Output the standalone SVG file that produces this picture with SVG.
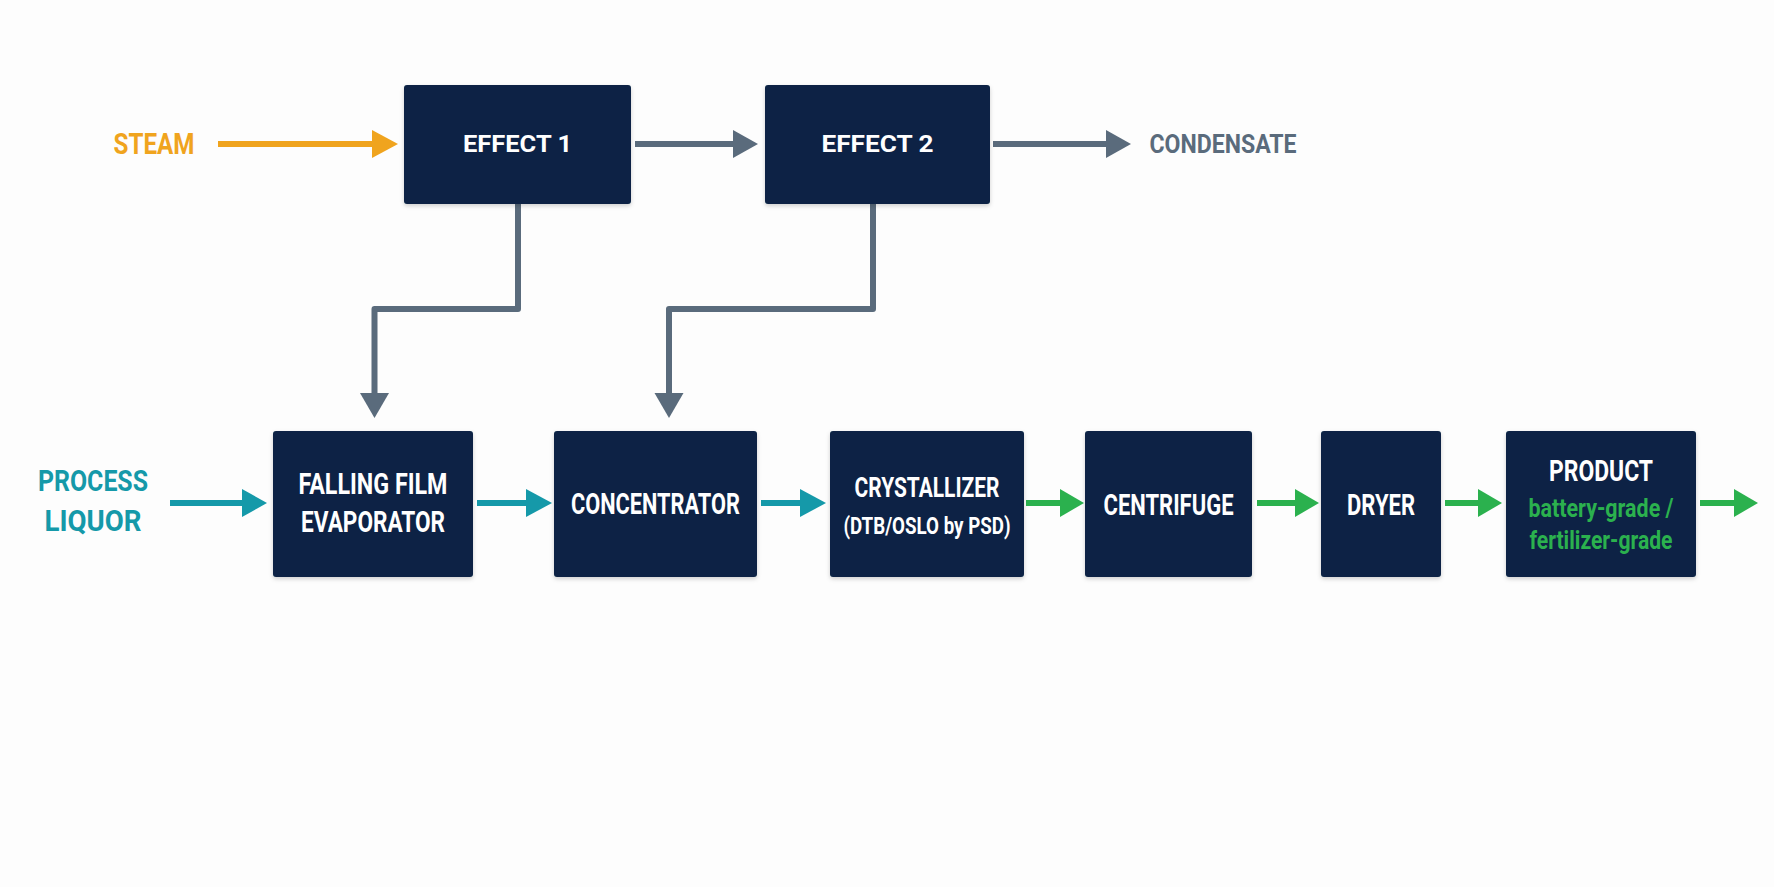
<svg xmlns="http://www.w3.org/2000/svg" width="1774" height="887" viewBox="0 0 1774 887">
<defs>
<style>
.box{fill:#0a2444;}
.t{font-family:Roboto,"Liberation Sans",sans-serif;font-weight:bold;text-anchor:middle;dominant-baseline:central;}
.w{fill:#ffffff;}
.g{fill:#2bb14e;}
.ln{fill:none;stroke-width:6;}
.hd{stroke:none;}
</style>
<filter id="sh" x="-10%" y="-10%" width="120%" height="130%"><feDropShadow dx="0" dy="2" stdDeviation="2" flood-color="#000" flood-opacity="0.18"/></filter>
</defs>
<rect width="1774" height="887" fill="#fdfdfd"/>

<g id="connectors">
<line class="ln" x1="218" y1="144" x2="374" y2="144" stroke="#f0a41e"/>
<polygon class="hd" points="372,130 398,144 372,158" fill="#f0a41e"/>
<line class="ln" x1="635" y1="144" x2="735" y2="144" stroke="#5a6b7c"/>
<polygon class="hd" points="733,130 758,144 733,158" fill="#5a6b7c"/>
<line class="ln" x1="993" y1="144" x2="1108" y2="144" stroke="#5a6b7c"/>
<polygon class="hd" points="1106,130 1131,144 1106,158" fill="#5a6b7c"/>
<polyline class="ln" points="518,204 518,309 374.5,309 374.5,396" stroke="#5a6b7c" stroke-linejoin="round"/>
<polygon class="hd" points="360,393 389,393 374.5,418" fill="#5a6b7c"/>
<polyline class="ln" points="873,204 873,309 669,309 669,396" stroke="#5a6b7c" stroke-linejoin="round"/>
<polygon class="hd" points="654.5,393 683.5,393 669,418" fill="#5a6b7c"/>
<line class="ln" x1="170" y1="503" x2="244" y2="503" stroke="#1599a9"/>
<polygon class="hd" points="242,489 267,503 242,517" fill="#1599a9"/>
<line class="ln" x1="477" y1="503" x2="528" y2="503" stroke="#1599a9"/>
<polygon class="hd" points="526,489 552,503 526,517" fill="#1599a9"/>
<line class="ln" x1="761" y1="503" x2="802" y2="503" stroke="#1599a9"/>
<polygon class="hd" points="800,489 826,503 800,517" fill="#1599a9"/>
<line class="ln" x1="1026" y1="503" x2="1062" y2="503" stroke="#2bb14e"/>
<polygon class="hd" points="1060,489 1084,503 1060,517" fill="#2bb14e"/>
<line class="ln" x1="1257" y1="503" x2="1297" y2="503" stroke="#2bb14e"/>
<polygon class="hd" points="1295,489 1319,503 1295,517" fill="#2bb14e"/>
<line class="ln" x1="1445" y1="503" x2="1480" y2="503" stroke="#2bb14e"/>
<polygon class="hd" points="1478,489 1502,503 1478,517" fill="#2bb14e"/>
<line class="ln" x1="1700" y1="503" x2="1736" y2="503" stroke="#2bb14e"/>
<polygon class="hd" points="1734,489 1758,503 1734,517" fill="#2bb14e"/>
</g>

<g id="steam-label"><text class="t" x="154" y="144" font-size="29" fill="#f0a41e" textLength="81" lengthAdjust="spacingAndGlyphs">STEAM</text></g>
<g id="condensate-label"><text class="t" x="1223" y="144" font-size="25" fill="#5a6b7c" textLength="147" lengthAdjust="spacingAndGlyphs">CONDENSATE</text></g>
<g id="process-liquor-label">
<text class="t" x="93" y="480" font-size="30" fill="#1599a9" textLength="110" lengthAdjust="spacingAndGlyphs">PROCESS</text>
<text class="t" x="93" y="520" font-size="30" fill="#1599a9" textLength="97" lengthAdjust="spacingAndGlyphs">LIQUOR</text>
</g>

<g id="effect1"><rect class="box" x="404" y="85" width="227" height="119" rx="3" filter="url(#sh)"/><text class="t w" x="517.5" y="144" font-size="24" textLength="109" lengthAdjust="spacingAndGlyphs">EFFECT 1</text></g>
<g id="effect2"><rect class="box" x="765" y="85" width="225" height="119" rx="3" filter="url(#sh)"/><text class="t w" x="877.5" y="144" font-size="24" textLength="112" lengthAdjust="spacingAndGlyphs">EFFECT 2</text></g>

<g id="falling-film"><rect class="box" x="273" y="431" width="200" height="146" rx="3" filter="url(#sh)"/>
<text class="t w" x="373" y="484" font-size="29" textLength="149" lengthAdjust="spacingAndGlyphs">FALLING FILM</text>
<text class="t w" x="373" y="522" font-size="29" textLength="144" lengthAdjust="spacingAndGlyphs">EVAPORATOR</text></g>
<g id="concentrator"><rect class="box" x="554" y="431" width="203" height="146" rx="3" filter="url(#sh)"/>
<text class="t w" x="655.5" y="504" font-size="29" textLength="169" lengthAdjust="spacingAndGlyphs">CONCENTRATOR</text></g>
<g id="crystallizer"><rect class="box" x="830" y="431" width="194" height="146" rx="3" filter="url(#sh)"/>
<text class="t w" x="927" y="488" font-size="27" textLength="145" lengthAdjust="spacingAndGlyphs">CRYSTALLIZER</text>
<text class="t w" x="927" y="526" font-size="24" textLength="167" lengthAdjust="spacingAndGlyphs">(DTB/OSLO by PSD)</text></g>
<g id="centrifuge"><rect class="box" x="1085" y="431" width="167" height="146" rx="3" filter="url(#sh)"/>
<text class="t w" x="1168.5" y="505" font-size="29" textLength="130" lengthAdjust="spacingAndGlyphs">CENTRIFUGE</text></g>
<g id="dryer"><rect class="box" x="1321" y="431" width="120" height="146" rx="3" filter="url(#sh)"/>
<text class="t w" x="1381" y="505" font-size="29" textLength="68" lengthAdjust="spacingAndGlyphs">DRYER</text></g>
<g id="product"><rect class="box" x="1506" y="431" width="190" height="146" rx="3" filter="url(#sh)"/>
<text class="t w" x="1601" y="471" font-size="29" textLength="104" lengthAdjust="spacingAndGlyphs">PRODUCT</text>
<text class="t g" x="1601" y="508" font-size="26" textLength="145" lengthAdjust="spacingAndGlyphs">battery-grade /</text>
<text class="t g" x="1601" y="540" font-size="26" textLength="143" lengthAdjust="spacingAndGlyphs">fertilizer-grade</text></g>
</svg>
